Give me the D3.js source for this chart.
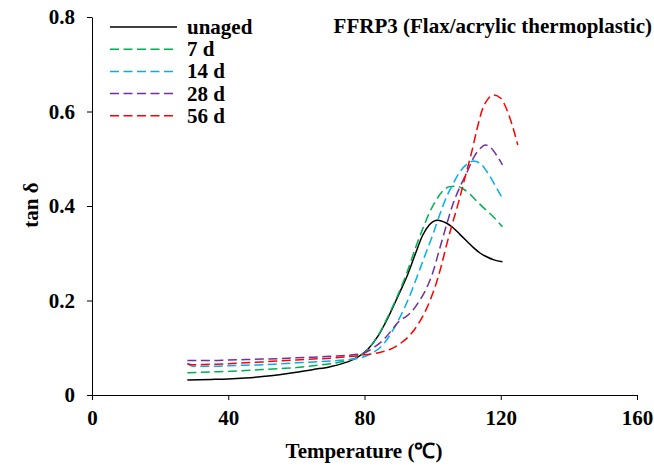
<!DOCTYPE html>
<html>
<head>
<meta charset="utf-8">
<script src="https://cdn.jsdelivr.net/npm/d3@7"></script>
<style>
  body { margin: 0; background: #fff; }
  svg { display: block; font-family: "Liberation Serif", "Times New Roman", serif; font-weight: bold; }
  .axis path, .axis line { stroke: #000; stroke-width: 1; }
  .axis text { font-size: 21px; font-family: "Liberation Serif", serif; font-weight: bold; fill: #000; }
</style>
</head>
<body>
<div id="chart"></div>
<script>
// x ticks / y ticks
var xTicks = [0, 40, 80, 120, 160];
var yTicks = [0, 0.2, 0.4, 0.6, 0.8];

// series names and colours
var seriesNames = ["unaged", "7 d", "14 d", "28 d", "56 d"];
var seriesColors = ["#000000", "#00B050", "#00B0F0", "#7030A0", "#FF0000"];

// [temperature, tan delta]
var unaged = [[28,0.032],[35,0.033],[40,0.034],[45,0.036],[50,0.039],[55,0.043],[60,0.048],[65,0.054],[70,0.060],[75,0.070],[78,0.080],[81,0.097],[84,0.125],[87,0.165],[90,0.212],[92.5,0.252],[95,0.300],[97,0.337],[99,0.360],[101.5,0.370],[104,0.364],[106,0.354],[108,0.340],[110,0.326],[112,0.312],[114,0.300],[116,0.292],[118,0.286],[120.5,0.282]];
var aged7 = [[28,0.047],[35,0.049],[40,0.050],[45,0.052],[50,0.054],[55,0.056],[60,0.058],[65,0.062],[70,0.066],[75,0.073],[78,0.080],[81,0.097],[84,0.126],[87,0.168],[90,0.215],[92.5,0.260],[95,0.312],[97,0.350],[99,0.385],[101,0.412],[103,0.432],[105,0.441],[107,0.442],[109,0.436],[111,0.425],[113,0.410],[115,0.396],[117,0.383],[119,0.368],[120.5,0.356]];
var aged14 = [[28,0.066],[29.5,0.061],[35,0.061],[40,0.062],[45,0.063],[50,0.064],[55,0.066],[60,0.068],[65,0.070],[70,0.072],[75,0.075],[79,0.079],[82,0.088],[85.5,0.107],[88,0.133],[90.5,0.166],[93,0.205],[95.5,0.252],[98,0.300],[100.2,0.342],[102,0.380],[104,0.418],[106,0.447],[108,0.472],[110,0.488],[112,0.495],[114,0.490],[116,0.472],[118,0.448],[120.5,0.416]];
var aged28 = [[28,0.073],[35,0.073],[40,0.074],[45,0.075],[50,0.076],[55,0.077],[60,0.079],[65,0.080],[70,0.082],[75,0.084],[79.5,0.088],[83,0.102],[86,0.120],[88.5,0.142],[90.5,0.159],[92,0.165],[94,0.178],[96,0.198],[98,0.223],[100,0.258],[102,0.308],[104,0.358],[106,0.405],[108,0.440],[110,0.470],[112,0.502],[114,0.522],[115.5,0.529],[117,0.524],[119,0.505],[120.5,0.487]];
var aged56 = [[28,0.066],[29.5,0.064],[35,0.065],[40,0.066],[45,0.068],[50,0.070],[55,0.072],[60,0.074],[65,0.076],[70,0.078],[75,0.081],[80,0.085],[85,0.091],[88,0.098],[90.5,0.109],[93,0.124],[95.5,0.147],[97.5,0.172],[99.3,0.201],[101,0.235],[102.5,0.272],[104,0.315],[105.5,0.355],[107.5,0.405],[109.5,0.460],[111.5,0.515],[113,0.562],[114.5,0.602],[116,0.624],[118,0.635],[120,0.628],[122,0.600],[123.5,0.568],[125,0.529]];

var seriesData = [unaged, aged7, aged14, aged28, aged56];

var width = 654, height = 467;
var margin = {left: 92, right: 17, top: 17, bottom: 72};

var svg = d3.select("#chart").append("svg")
    .attr("width", width)
    .attr("height", height);

var xScale = d3.scaleLinear()
    .domain([0, 160])
    .range([margin.left, width - margin.right]);
var yScale = d3.scaleLinear()
    .domain([0, 0.8])
    .range([height - margin.bottom, margin.top]);

// axes
var xAxis = svg.append("g")
    .classed("axis", true)
    .attr("transform", "translate(0," + yScale(0) + ")")
    .call(d3.axisBottom(xScale).tickValues(xTicks).tickSize(5).tickSizeOuter(0).tickPadding(10).tickFormat(d3.format("d")));

var yAxis = svg.append("g")
    .classed("axis", true)
    .attr("transform", "translate(" + xScale(0) + ",0)")
    .call(d3.axisLeft(yScale).tickValues(yTicks).tickSize(5).tickSizeOuter(0).tickPadding(12)
        .tickFormat(d => d === 0 ? "0" : d3.format(".1f")(d)));

// curves
var line = d3.line()
    .x(d => xScale(d[0]))
    .y(d => yScale(d[1]))
    .curve(d3.curveMonotoneX);

seriesData.forEach((s, i) => {
    svg.append("path")
        .datum(s)
        .attr("fill", "none")
        .attr("stroke", seriesColors[i])
        .attr("stroke-width", 1.5)
        .attr("stroke-dasharray", i === 0 ? null : "9,4.5")
        .attr("d", line);
});

// legend
var legend = svg.append("g").attr("transform", "translate(110,27)");
seriesNames.forEach((name, i) => {
    var row = legend.append("g").attr("transform", "translate(0," + (i * 22.2) + ")");
    row.append("line")
        .attr("x1", 0).attr("x2", 67)
        .attr("stroke", seriesColors[i])
        .attr("stroke-width", 1.5)
        .attr("stroke-dasharray", i === 0 ? null : "9,4.5");
    row.append("text")
        .attr("x", 77).attr("y", 7)
        .style("font-size", "21px")
        .text(name);
});

// title
svg.append("text")
    .attr("x", 652).attr("y", 33)
    .attr("text-anchor", "end")
    .style("font-size", "21px")
    .text("FFRP3 (Flax/acrylic thermoplastic)");

// axis titles
svg.append("text")
    .attr("x", 364).attr("y", 458)
    .attr("text-anchor", "middle")
    .style("font-size", "21px")
    .text("Temperature (℃)");

svg.append("text")
    .attr("transform", "translate(38,205) rotate(-90)")
    .attr("text-anchor", "middle")
    .style("font-size", "21px")
    .text("tan δ");
</script>
</body>
</html>
